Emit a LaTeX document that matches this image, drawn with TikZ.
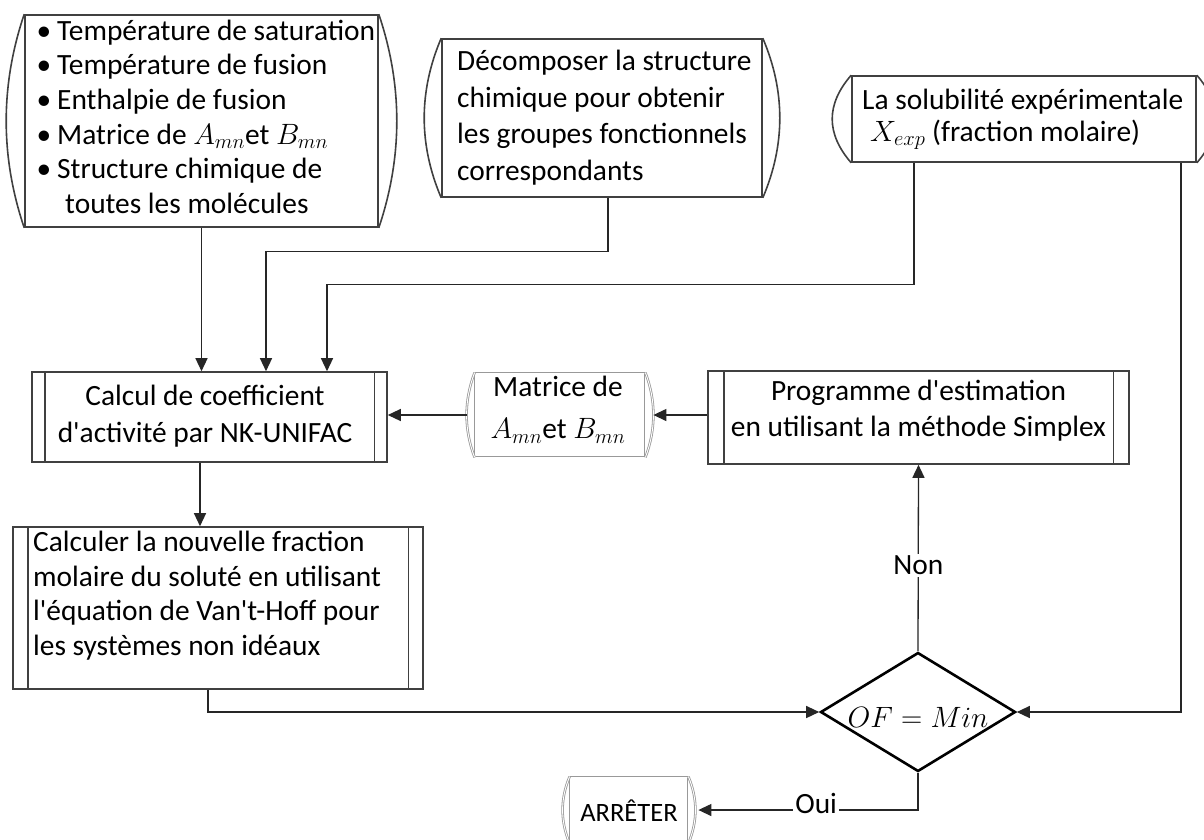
\documentclass[tikz,border=0pt]{standalone}
\usepackage{fix-cm}
\usepackage{fontspec}
\setmainfont{Carlito}[Ligatures=TeXOff]
\usetikzlibrary{arrows.meta,shapes.geometric,calc}

% curved sides of a stored-data box: bulge #2 on both sides of node #1
\newcommand\sidearcs[3]{%
  \draw[#3] (#1.north west) .. controls ($(#1.north west)!0.3333!(#1.south west)+(-1.3333*#2,0)$)
     and ($(#1.north west)!0.6667!(#1.south west)+(-1.3333*#2,0)$) .. (#1.south west);
  \draw[#3] (#1.north east) .. controls ($(#1.north east)!0.3333!(#1.south east)+(1.3333*#2,0)$)
     and ($(#1.north east)!0.6667!(#1.south east)+(1.3333*#2,0)$) .. (#1.south east);}
% inner vertical bars of a predefined-process box
\newcommand\proclines[2]{%
  \draw[boxline] ([xshift=#2]#1.north west) -- ([xshift=#2]#1.south west);
  \draw[boxline] ([xshift=-#2]#1.north east) -- ([xshift=-#2]#1.south east);}
% bullet with its gap before the item text
\newcommand\itembul{\makebox[18pt][r]{\textbullet\hspace{6pt}}}

\tikzset{
  boxline/.style={draw=black!75, line width=1.6pt},
  softline/.style={draw=black!40, double=white, double distance=0.9pt, line width=0.8pt},
  databox/.style={rectangle, boxline, inner sep=0pt},
  procbox/.style={rectangle, boxline, inner sep=0pt},
  softbox/.style={rectangle, softline, inner sep=0pt},
  dia/.style={diamond, draw=black, line width=2.6pt, inner sep=0pt},
  arr/.style={draw=black!85, line width=1.3pt, -{Triangle[length=13pt,width=12pt]}},
  txt/.style={inner sep=0pt, align=left, font=\fontsize{29.4pt}{34.6pt}\selectfont},
  lbl/.style={fill=white, inner sep=2pt, font=\fontsize{29.4pt}{34.6pt}\selectfont},
}

\begin{document}
\begin{tikzpicture}[x=1pt, y=-1pt]
\useasboundingbox (0,0) rectangle (1204,839);
\fill[white] (0,0) rectangle (1204,839);
\clip (0,0) rectangle (1204,839);

% ---- boxes
\node[databox, minimum width=353pt, minimum height=212pt] (b1) at (201.5,121) {};
\node[databox, minimum width=320pt, minimum height=158pt] (b2) at (602,118) {};
\node[databox, minimum width=344pt, minimum height=86pt] (b3) at (1024,119) {};
\node[procbox, minimum width=355pt, minimum height=90pt] (calc) at (209.5,417) {};
\node[softbox, minimum width=170pt, minimum height=84pt] (mat) at (560,415) {};
\node[procbox, minimum width=421pt, minimum height=93pt] (prog) at (918.5,417.5) {};
\node[procbox, minimum width=410pt, minimum height=162pt] (calcer) at (218,608) {};
\node[dia, minimum width=195pt, minimum height=119pt] (dec) at (918,712) {};
\node[softbox, minimum width=118pt, minimum height=66pt] (stop) at (629,810) {};

\sidearcs{b1}{18}{boxline}
\sidearcs{b2}{17}{boxline}
\sidearcs{b3}{19}{boxline}
\sidearcs{mat}{8}{softline}
\sidearcs{stop}{7}{softline}
\proclines{calc}{13.5pt}
\proclines{prog}{16.5pt}
\proclines{calcer}{15.5pt}

% ---- texts
\node[txt, anchor=north west] (t1) at (39,15.8) {\strut\itembul Température de saturation\\
  \itembul Température de fusion\\
  \itembul Enthalpie de fusion\\
  \itembul Matrice de $A_{mn}$et $B_{mn}$\\
  \itembul Structure chimique de\\
  \hspace*{26pt}toutes les molécules};
\node[txt, font=\fontsize{29.4pt}{36.4pt}\selectfont, anchor=north west] (t2) at (457,45.2)
  {\strut Décomposer la structure\\chimique pour obtenir\\les groupes fonctionnels\\correspondants};
\node[txt, font=\fontsize{29.4pt}{30pt}\selectfont, anchor=north west] (t3) at (862,88.3)
  {\strut La solubilité expérimentale\\\hspace*{8pt}$X_{exp}$ (fraction molaire)};
\node[txt, font=\fontsize{29.4pt}{37.7pt}\selectfont, align=center, anchor=north] (t4) at (205,378.6)
  {\strut Calcul de coefficient\\d'activité par NK-UNIFAC};
\node[txt, font=\fontsize{29.4pt}{41.7pt}\selectfont, align=center, anchor=north] (t5) at (558,367.5)
  {\strut Matrice de\\$A_{mn}$et $B_{mn}$};
\node[txt, font=\fontsize{29.4pt}{36.7pt}\selectfont, align=center, anchor=north] (t6) at (918.5,374.3)
  {\strut Programme d'estimation\\en utilisant la méthode Simplex};
\node[txt, font=\fontsize{29.4pt}{34.4pt}\selectfont, anchor=north west] (t7) at (33,527.6)
  {\strut Calculer la nouvelle fraction\\molaire du soluté en utilisant\\l'équation de Van't-Hoff pour\\les systèmes non idéaux};
\node[txt, anchor=base] (t8) at (918,727.3) {$OF=Min$};
\node[txt, font=\fontsize{26.5pt}{31pt}\selectfont, anchor=base] (t9) at (629,821.7) {ARRÊTER};

% ---- connectors
\draw[arr] (b1.south) -- (b1.south |- calc.north);
\draw[arr] ([xshift=6pt]b2.south) -- ++(0,54) -| ([xshift=56.5pt]calc.north);
\draw[arr] ([xshift=-110pt]b3.south) -- ++(0,122) -| ([xshift=117.5pt]calc.north);
\draw[arr] ([xshift=157pt]b3.south) |- (dec.east);
\draw[arr] ([xshift=-9.5pt]calc.south) -- ([xshift=-18pt]calcer.north);
\draw[arr] (prog.west |- mat.east) -- ([xshift=8pt]mat.east);
\draw[arr] ([xshift=-8pt]mat.west) -- (calc.east |- mat.west);
\draw[arr] ([xshift=-10pt]calcer.south) |- (dec.west);
\draw[arr] (dec.north) -- node[lbl, pos=0.46] (non) {Non} (prog.south);
\draw[arr] (dec.south) |- node[lbl, pos=0.732, anchor=base, yshift=-3pt] (oui) {Oui} ([xshift=10pt]stop.east);
\end{tikzpicture}
\end{document}
